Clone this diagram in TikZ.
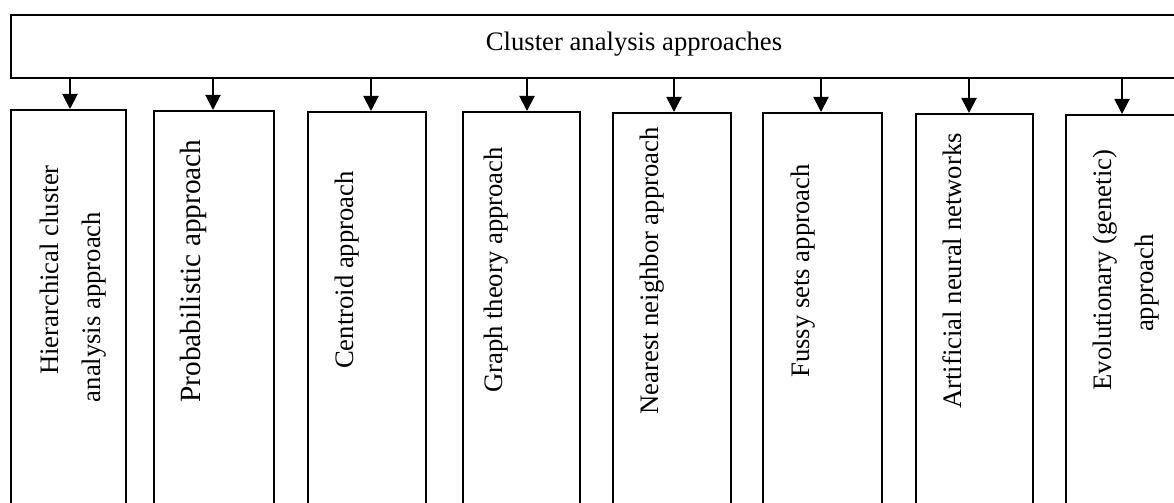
\documentclass[tikz,border=0pt]{standalone}
\usepackage{fontspec}
\setmainfont{Liberation Serif}
\usetikzlibrary{arrows.meta}
\begin{document}
\begin{tikzpicture}[x=0.45pt,y=-0.45pt,
  frame/.style={draw, line width=0.8pt, inner sep=0pt, anchor=north west},
  vlabel/.style={rotate=90, anchor=base, inner sep=0pt, font=\fontsize{12}{14}\selectfont},
  feed/.style={line width=0.9pt, -{Triangle[width=6.8pt,length=6.8pt]}}]
\clip (0,0) rectangle (1174,503);

% heading box
\node[frame, minimum width=1190*0.45pt, minimum height=63*0.45pt] (top) at (10,14) {};
\node[anchor=base, inner sep=0pt, font=\fontsize{12}{14}\selectfont] (title) at (634,51) {Cluster analysis approaches};

% approach boxes
\node[frame, minimum width=115*0.45pt, minimum height=411*0.45pt] (b1) at (10,109) {};
\node[frame, minimum width=120*0.45pt, minimum height=410*0.45pt] (b2) at (153,110) {};
\node[frame, minimum width=118*0.45pt, minimum height=409*0.45pt] (b3) at (307,111) {};
\node[frame, minimum width=117*0.45pt, minimum height=409*0.45pt] (b4) at (462,111) {};
\node[frame, minimum width=118*0.45pt, minimum height=408*0.45pt] (b5) at (612,112) {};
\node[frame, minimum width=119*0.45pt, minimum height=408*0.45pt] (b6) at (762,112) {};
\node[frame, minimum width=117*0.45pt, minimum height=407*0.45pt] (b7) at (915,113) {};
\node[frame, minimum width=118*0.45pt, minimum height=406*0.45pt] (b8) at (1065,114) {};

% box texts
\node[vlabel] (t1a) at (58,270) {Hierarchical cluster};
\node[vlabel] (t1b) at (100,307) {analysis approach};
\node[vlabel, font=\fontsize{13.2}{15}\selectfont] (t2) at (200,271) {Probabilistic approach};
\node[vlabel] (t3) at (353,270) {Centroid approach};
\node[vlabel] (t4) at (502,270) {Graph theory approach};
\node[vlabel] (t5) at (658,271) {Nearest neighbor approach};
\node[vlabel] (t6) at (809,271) {Fussy sets approach};
\node[vlabel] (t7) at (961,271) {Artificial neural networks};
\node[vlabel] (t8a) at (1111,270) {Evolutionary (genetic)};
\node[vlabel] (t8b) at (1153,283) {approach};

% arrow columns
\coordinate (x1) at (70,0);
\coordinate (x2) at (213,0);
\coordinate (x3) at (371,0);
\coordinate (x4) at (527,0);
\coordinate (x5) at (674,0);
\coordinate (x6) at (821,0);
\coordinate (x7) at (969,0);
\coordinate (x8) at (1122,0);

\draw[feed] (top.south -| x1) -- (b1.north -| x1);
\draw[feed] (top.south -| x2) -- (b2.north -| x2);
\draw[feed] (top.south -| x3) -- (b3.north -| x3);
\draw[feed] (top.south -| x4) -- (b4.north -| x4);
\draw[feed] (top.south -| x5) -- (b5.north -| x5);
\draw[feed] (top.south -| x6) -- (b6.north -| x6);
\draw[feed] (top.south -| x7) -- (b7.north -| x7);
\draw[feed] (top.south -| x8) -- (b8.north -| x8);
\end{tikzpicture}
\end{document}
